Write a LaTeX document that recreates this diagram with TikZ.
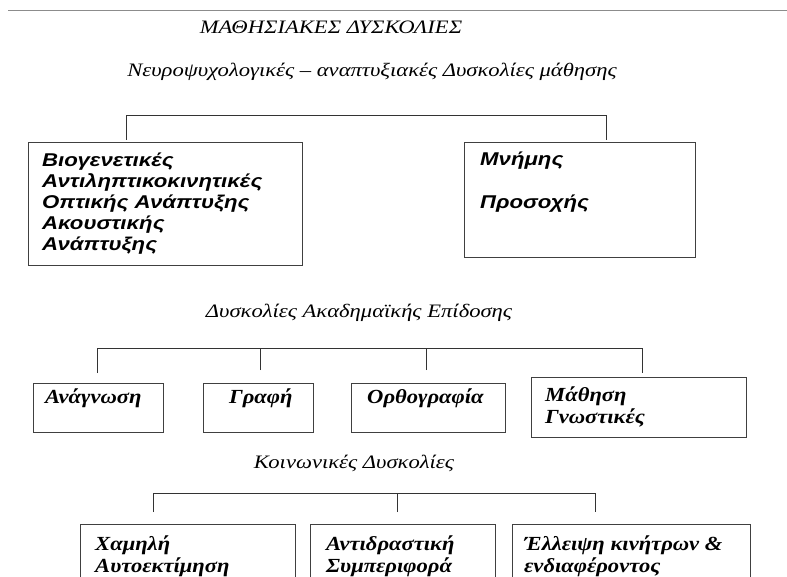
\documentclass[tikz,border=0pt]{standalone}
\usepackage{fontspec}
\setmainfont{Liberation Serif}
\setsansfont{Liberation Sans}
\newfontfamily\headfont{Liberation Serif}[FakeStretch=1.19]
\newfontfamily\boxsans{Liberation Sans}[FakeStretch=1.2]
\newfontfamily\boxserif{Liberation Serif}[FakeStretch=1.13]
\usetikzlibrary{positioning}

\begin{document}
\begin{tikzpicture}[x=1pt, y=-1pt,
    box/.style={draw=black!75, line width=1.1pt, anchor=north west, inner sep=0pt},
    head/.style={anchor=base, inner sep=0pt, font=\headfont\itshape\fontsize{19}{22}\selectfont},
    sbtxt/.style={inner sep=0pt, align=left, font=\boxsans\bfseries\itshape\fontsize{18.5}{21}\selectfont},
    rmtxt/.style={inner sep=0pt, align=left, font=\boxserif\bfseries\itshape\fontsize{20}{22}\selectfont},
    brk/.style={draw=black!80, line width=0.9pt}
]
\clip (0,0) rectangle (787,577);
\draw[black!45, line width=0.8pt] (8,10) -- (787,10);

% headings
\node[head] (title) at (331,34) {ΜΑΘΗΣΙΑΚΕΣ ΔΥΣΚΟΛΙΕΣ};
\node[head] (neuro) at (372,77) {Νευροψυχολογικές – αναπτυξιακές Δυσκολίες μάθησης};
\node[head] (acad) at (359,317) {Δυσκολίες Ακαδημαϊκής Επίδοσης};
\node[head] (social) at (354,468) {Κοινωνικές Δυσκολίες};

% first group
\node[box, minimum width=274pt, minimum height=123pt] (bio) at (28,142) {};
\node[box, minimum width=231pt, minimum height=115pt] (mem) at (464,142) {};
\node[sbtxt, below right=11pt and 14pt of bio.north west] (biotxt)
    {Βιογενετικές\\Αντιληπτικοκινητικές\\Οπτικής Ανάπτυξης\\Ακουστικής\\Ανάπτυξης};
\node[sbtxt, below right=10pt and 16pt of mem.north west] (memtxt)
    {Μνήμης\\[22pt]Προσοχής};
\coordinate (n1) at (126,140);
\coordinate (n2) at (606,140);
\draw[brk] (n1) -- ++(0,-25) -| (n2);

% second group
\node[box, minimum width=130pt, minimum height=49pt] (read) at (33,383) {};
\node[box, minimum width=110pt, minimum height=49pt] (write) at (203,383) {};
\node[box, minimum width=154pt, minimum height=49pt] (spell) at (351,383) {};
\node[box, minimum width=215pt, minimum height=60pt] (learn) at (531,377) {};
\node[rmtxt, below right=6pt and 12pt of read.north west] (readtxt) {Ανάγνωση};
\node[rmtxt, below right=6pt and 26pt of write.north west] (writetxt) {Γραφή};
\node[rmtxt, below right=6pt and 16pt of spell.north west] (spelltxt) {Ορθογραφία};
\node[rmtxt, below right=10pt and 14pt of learn.north west] (learntxt) {Μάθηση\\Γνωστικές};
\coordinate (a1) at (97,373);
\coordinate (a2) at (260,370);
\coordinate (a3) at (426,370);
\coordinate (a4) at (642,373);
\draw[brk] (a1) -- ++(0,-25) coordinate (abar) -| (a4);
\draw[brk] (a2) -- (a2 |- abar);
\draw[brk] (a3) -- (a3 |- abar);

% third group
\node[box, minimum width=215pt, minimum height=80pt] (self) at (80,524) {};
\node[box, minimum width=185pt, minimum height=80pt] (react) at (310,524) {};
\node[box, minimum width=238pt, minimum height=80pt] (motiv) at (512,524) {};
\node[rmtxt, below right=12pt and 15pt of self.north west] (selftxt) {Χαμηλή\\Αυτοεκτίμηση};
\node[rmtxt, below right=12pt and 16pt of react.north west] (reacttxt) {Αντιδραστική\\Συμπεριφορά};
\node[rmtxt, below right=12pt and 12pt of motiv.north west] (motivtxt) {Έλλειψη κινήτρων \&\\ενδιαφέροντος};
\coordinate (c1) at (153,512);
\coordinate (c2) at (397,512);
\coordinate (c3) at (595,512);
\draw[brk] (c1) -- ++(0,-19) coordinate (cbar) -| (c3);
\draw[brk] (c2) -- (c2 |- cbar);
\end{tikzpicture}
\end{document}
